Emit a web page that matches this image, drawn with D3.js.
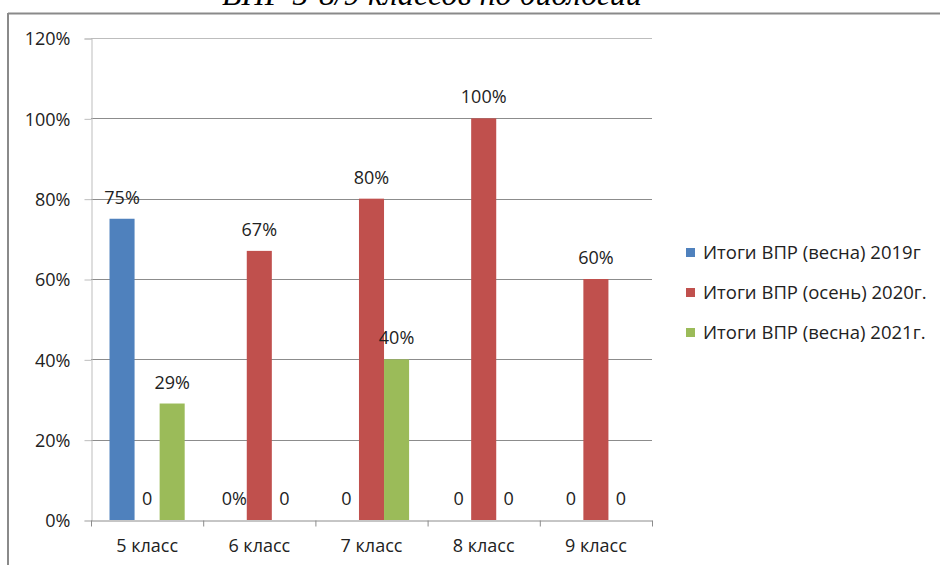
<!DOCTYPE html>
<html><head><meta charset="utf-8">
<script src="https://cdn.jsdelivr.net/npm/d3@7"></script>
<style>
html,body{margin:0;padding:0;background:#fff;}
svg{display:block;}
</style></head>
<body>
<svg id="c" width="940" height="565"></svg>
<script>
const categories = ["5 класс","6 класс","7 класс","8 класс","9 класс"];
const seriesNames = ["Итоги ВПР (весна) 2019г","Итоги ВПР (осень) 2020г.","Итоги ВПР (весна) 2021г."];
const values2019 = [0.75, 0, 0, 0, 0];
const values2020 = [0, 0.67, 0.80, 1.00, 0.60];
const values2021 = [0.29, 0, 0.40, 0, 0];
const labels2019 = ["75%","0%","0","0","0"];
const labels2020 = ["0","67%","80%","100%","60%"];
const labels2021 = ["29%","0","40%","0","0"];
const yTicks = [0,0.2,0.4,0.6,0.8,1.0,1.2];
const colors = ["#4F81BD","#C0504D","#9BBB59"];
const titleText = "ВПР 5-8/9 классов по биологии";

const series = [
  {name: seriesNames[0], values: values2019, labels: labels2019, color: colors[0]},
  {name: seriesNames[1], values: values2020, labels: labels2020, color: colors[1]},
  {name: seriesNames[2], values: values2021, labels: labels2021, color: colors[2]}
];

const svg = d3.select("#c");
const font = "'Open Sans', 'Liberation Sans', Arial, sans-serif";
const fs = 18;

// outer border
svg.append("line").attr("x1",8).attr("x2",940).attr("y1",13.5).attr("y2",13.5).attr("stroke","#8a8a8a").attr("stroke-width",2);
svg.append("line").attr("x1",8).attr("x2",8).attr("y1",13).attr("y2",565).attr("stroke","#8a8a8a").attr("stroke-width",2);

// title (cut off at top, as in the reference)
const title = svg.append("text").attr("x",222).attr("y",5)
  .attr("font-family","'Liberation Serif', 'Times New Roman', serif")
  .attr("font-style","italic").attr("font-size",26).attr("fill","#000").text(titleText);
const tw = title.node().getComputedTextLength();
title.attr("font-size", 26*420/tw);

const x0 = 91, x1 = 652, yBottom = 520, yTop = 38;
const x = d3.scaleBand().domain(categories).range([x0,x1]).paddingInner(0).paddingOuter(0);
const bw = x.bandwidth();
const pad = bw*0.165;
const xs = d3.scaleBand().domain(seriesNames).range([pad, bw-pad]);
const y = d3.scaleLinear().domain([0,1.2]).range([yBottom,yTop]);

// gridlines
svg.append("g").selectAll("line").data(yTicks.filter(d=>d>0)).join("line")
  .attr("x1",x0).attr("x2",x1).attr("y1",d=>Math.round(y(d))+0.5).attr("y2",d=>Math.round(y(d))+0.5)
  .attr("stroke",d=>d===1.2?"#bdbdbd":"#8c8c8c").attr("stroke-width",1);

// y axis
const yAxis = d3.axisLeft(y).tickValues(yTicks).tickFormat(d=>Math.round(d*100)+"%").tickSize(7).tickPadding(14);
const gy = svg.append("g").attr("transform",`translate(${x0+0.5},0.5)`).call(yAxis);
gy.select(".domain").attr("stroke","#bdbdbd");
gy.selectAll(".tick line").attr("stroke","#bdbdbd");
gy.selectAll("text").attr("font-family",font).attr("font-size",fs).attr("fill","#222").attr("dy","0.35em");

// bars
const groups = svg.append("g").selectAll("g").data(series).join("g").attr("fill",d=>d.color);
groups.selectAll("rect").data(s=>s.values.map((v,i)=>({v, cat:categories[i], name:s.name}))).join("rect")
  .attr("x",d=>x(d.cat)+xs(d.name)).attr("width",xs.bandwidth())
  .attr("y",d=>y(d.v)).attr("height",d=>y(0)-y(d.v));

// x axis
const xAxis = d3.axisBottom(x).tickSize(0).tickPadding(19);
const gx = svg.append("g").attr("transform",`translate(0,${yBottom+0.5})`).call(xAxis);
gx.select(".domain").attr("stroke","#8c8c8c");
gx.selectAll("text").attr("font-family",font).attr("font-size",fs).attr("fill","#222");
gx.selectAll(".bt").data(d3.range(categories.length+1)).join("line").attr("class","bt")
  .attr("x1",i=>x0+i*bw+0.5).attr("x2",i=>x0+i*bw+0.5).attr("y1",0).attr("y2",6).attr("stroke","#8c8c8c");

// data labels
const lg = svg.append("g");
series.forEach(s=>{
  lg.append("g").selectAll("text").data(s.values.map((v,i)=>({v, cat:categories[i], lab:s.labels[i]}))).join("text")
    .attr("x",d=>x(d.cat)+xs(s.name)+xs.bandwidth()/2).attr("y",d=>y(d.v)-15)
    .attr("text-anchor","middle").attr("font-family",font).attr("font-size",fs).attr("fill","#222")
    .text(d=>d.lab);
});

// legend
const leg = svg.append("g").attr("transform","translate(686,0)");
const ly = [252.5, 292.5, 332.5];
series.forEach((s,i)=>{
  leg.append("rect").attr("x",0).attr("y",ly[i]-4.5).attr("width",9).attr("height",9).attr("fill",s.color);
  leg.append("text").attr("x",17).attr("y",ly[i]).attr("dy","0.35em").attr("font-family",font)
    .attr("font-size",18.5).attr("fill","#222").text(s.name);
});
</script>
</body></html>
